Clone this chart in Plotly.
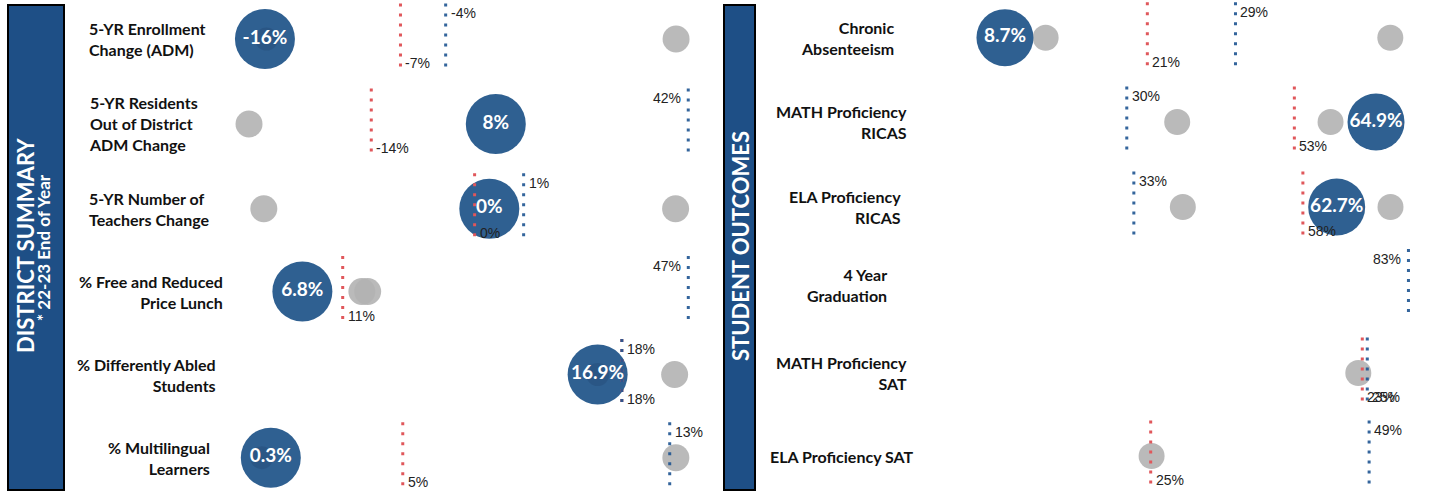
import plotly.graph_objects as go

W, H = 1430, 492

# ---------------- data ----------------
left_categories = ["5-YR Enrollment<br>Change (ADM)",
                   "5-YR Residents<br>Out of District<br>ADM Change",
                   "5-YR Number of<br>Teachers Change",
                   "% Free and Reduced<br>Price Lunch",
                   "% Differently Abled<br>Students",
                   "% Multilingual<br>Learners"]
left_district = [-16.0, 8.0, 0.3, 6.8, 16.9, 0.3]
left_decimals = [0, 0, 0, 1, 1, 1]
left_state = [-7.0, -14.0, 0.0, 11.0, 18.0, 4.6]      # red dotted reference
left_peer = [-4.0, 42.0, 1.0, 47.0, 18.0, 13.3]       # blue dotted reference
left_gray = [[-15.9, 11.3], [-35.6], [-4.3, 4.1], [13.0, 13.6], [16.9, 20.4], [0.0, 13.5]]
left_inner = [-15.9, None, None, None, 16.9, 0.0]     # peer marker hidden under the bubble

right_categories = ["Chronic<br>Absenteeism",
                    "MATH Proficiency<br>RICAS",
                    "ELA Proficiency<br>RICAS",
                    "4 Year<br>Graduation",
                    "MATH Proficiency<br>SAT",
                    "ELA Proficiency SAT"]
right_district = [8.7, 64.9, 62.7, None, None, None]
right_decimals = [1, 1, 1, 1, 1, 1]
right_state = [21.3, 53.4, 57.8, None, 23.0, 25.0]
right_peer = [29.1, 29.8, 33.3, 83.0, 25.0, 49.0]
right_gray = [[12.3, 42.8], [36.9, 58.5], [40.4, 70.5], [], [21.4], [25.1]]
right_inner = [None] * 6

# ---------------- style / layout ----------------
left_ranges = [[-18.32, 13.22], [-38.96, 44.96], [-4.99, 4.70],
               [-0.74, 48.74], [0.19, 21.78], [-1.03, 14.45]]
right_ranges = [[2.51, 45.87], [2.79, 71.8], [4.48, 75.5],
                [0.0, 85.9], [-147.9, 48.08], [1.3, 55.14]]
left_centers = [39, 124, 208.7, 291.5, 374.5, 457.7]
right_centers = [37.7, 122, 207, 284.5, 373, 456]
left_label_x = [87, 87, 87, 225, 218, 212]
left_label_align = ["left", "left", "left", "right", "right", "right"]
right_label_x = [896, 909, 903, 889, 909, 916]
right_label_align = ["right"] * 6
left_peer_side = ["right", "left", "right", "left", "right", "right"]
left_peer_vert = ["top"] * 6
right_peer_side = ["right", "right", "right", "left", "right", "right"]
right_peer_vert = ["top", "top", "top", "top", "bottom", "top"]

BUBBLE = "#2f6091"
RED = "#e0575b"
BLUE = "#1f5592"
GRAY = "#b3b3b3"
SIDE = "#1e4f86"
LBL_FONT = "Liberation Sans"
BOLD_FONT = "Lato"

panels = [
    dict(cats=left_categories, district=left_district, dec=left_decimals, state=left_state,
         peer=left_peer, gray=left_gray, inner=left_inner, ranges=left_ranges, centers=left_centers,
         lx=left_label_x, la=left_label_align, pside=left_peer_side, pvert=left_peer_vert,
         x0=230, x1=705, bsize=60, gsize=27),
    dict(cats=right_categories, district=right_district, dec=right_decimals, state=right_state,
         peer=right_peer, gray=right_gray, inner=right_inner, ranges=right_ranges, centers=right_centers,
         lx=right_label_x, la=right_label_align, pside=right_peer_side, pvert=right_peer_vert,
         x0=935, x1=1425, bsize=57, gsize=26),
]

LINE_TOP, LINE_BOT = 35.5, -27.5
HALF = 38

fig = go.Figure()
layout = {}
annotations = []
n = 0
for p in panels:
    for r in range(6):
        n += 1
        xa = "x" if n == 1 else f"x{n}"
        ya = "y" if n == 1 else f"y{n}"
        c = p["centers"][r]
        top = max(0, c - HALF)
        bot = min(H, c + HALF)
        layout["xaxis" if n == 1 else f"xaxis{n}"] = dict(
            domain=[p["x0"] / W, p["x1"] / W], range=p["ranges"][r], visible=False,
            anchor=ya, fixedrange=True)
        layout["yaxis" if n == 1 else f"yaxis{n}"] = dict(
            domain=[1 - bot / H, 1 - top / H], range=[-(bot - c), c - top], visible=False,
            anchor=xa, fixedrange=True)

        g = p["gray"][r]
        if g:
            fig.add_trace(go.Scatter(x=g, y=[0] * len(g), mode="markers", xaxis=xa, yaxis=ya,
                                     marker=dict(size=p["gsize"], color=GRAY, opacity=0.9,
                                                 line=dict(width=0)),
                                     cliponaxis=False, hoverinfo="skip", showlegend=False))
        d = p["district"][r]
        if d is not None:
            fig.add_trace(go.Scatter(x=[d], y=[0], mode="markers", xaxis=xa, yaxis=ya,
                                     marker=dict(size=p["bsize"], color=BUBBLE, line=dict(width=0)),
                                     cliponaxis=False, hoverinfo="skip", showlegend=False))
        iv = p["inner"][r]
        if iv is not None:
            fig.add_trace(go.Scatter(x=[iv], y=[0], mode="markers", xaxis=xa, yaxis=ya,
                                     marker=dict(size=p["gsize"] - 4, color="rgba(20,45,85,0.18)",
                                                 line=dict(width=0)),
                                     cliponaxis=False, hoverinfo="skip", showlegend=False))
        s = p["state"][r]
        if s is not None:
            fig.add_trace(go.Scatter(x=[s, s], y=[LINE_TOP, LINE_BOT], mode="lines", xaxis=xa, yaxis=ya,
                                     line=dict(color=RED, width=3, dash="3px,7px"),
                                     hoverinfo="skip", showlegend=False))
        b = p["peer"][r]
        if b is not None:
            fig.add_trace(go.Scatter(x=[b, b], y=[LINE_TOP, LINE_BOT], mode="lines", xaxis=xa, yaxis=ya,
                                     line=dict(color=BLUE, width=3, dash="3px,7px"), opacity=0.9,
                                     hoverinfo="skip", showlegend=False))
        if d is not None:
            txt = f"{d:.{p['dec'][r]}f}%"
            fig.add_trace(go.Scatter(x=[d], y=[0], mode="text", xaxis=xa, yaxis=ya,
                                     text=[txt], textposition="middle center",
                                     textfont=dict(family=BOLD_FONT, size=19, color="white",
                                                   weight="bold"),
                                     cliponaxis=False, hoverinfo="skip", showlegend=False))
        # reference labels
        if s is not None:
            annotations.append(dict(xref=xa, yref=ya, x=s, y=-24, text=f"{s:.0f}%",
                                    showarrow=False, xanchor="left", yanchor="middle", xshift=3,
                                    font=dict(family=LBL_FONT, size=14, color="#222222")))
        if b is not None:
            side = p["pside"][r]
            vy = 26 if p["pvert"][r] == "top" else -24
            annotations.append(dict(xref=xa, yref=ya, x=b, y=vy, text=f"{b:.0f}%",
                                    showarrow=False, xanchor="left" if side == "right" else "right",
                                    yanchor="middle", xshift=3 if side == "right" else -5,
                                    font=dict(family=LBL_FONT, size=14, color="#222222")))
        # category label
        annotations.append(dict(xref="paper", yref="paper", x=p["lx"][r] / W, y=1 - c / H,
                                text=p["cats"][r], showarrow=False, xanchor=p["la"][r],
                                yanchor="middle", align=p["la"][r],
                                font=dict(family=BOLD_FONT, size=16, color="#111111", weight="bold")))

# side bars
shapes = [
    dict(type="rect", xref="paper", yref="paper", x0=8 / W, x1=64 / W, y0=1 - 490 / H, y1=1 - 5 / H,
         fillcolor=SIDE, line=dict(color="black", width=2), layer="below"),
    dict(type="rect", xref="paper", yref="paper", x0=724 / W, x1=755 / W, y0=1 - 490 / H, y1=1 - 5 / H,
         fillcolor=SIDE, line=dict(color="black", width=2), layer="below"),
]
annotations += [
    dict(xref="paper", yref="paper", x=25 / W, y=1 - 246 / H, text="DISTRICT SUMMARY", textangle=-90,
         showarrow=False, xanchor="center", yanchor="middle",
         font=dict(family=BOLD_FONT, size=22, color="white", weight="bold")),
    dict(xref="paper", yref="paper", x=44 / W, y=1 - 248 / H, text="* 22-23 End of Year", textangle=-90,
         showarrow=False, xanchor="center", yanchor="middle",
         font=dict(family=BOLD_FONT, size=17, color="white", weight="bold")),
    dict(xref="paper", yref="paper", x=740 / W, y=1 - 246 / H, text="STUDENT OUTCOMES", textangle=-90,
         showarrow=False, xanchor="center", yanchor="middle",
         font=dict(family=BOLD_FONT, size=22, color="white", weight="bold")),
]

fig.update_layout(**layout)
fig.update_layout(width=W, height=H, margin=dict(l=0, r=0, t=0, b=0),
                  paper_bgcolor="white", plot_bgcolor="rgba(0,0,0,0)",
                  showlegend=False, annotations=annotations, shapes=shapes)
fig.write_html("out.html", config={"displayModeBar": False},
               post_script="document.body.style.margin='0px';document.body.style.overflow='hidden';")
